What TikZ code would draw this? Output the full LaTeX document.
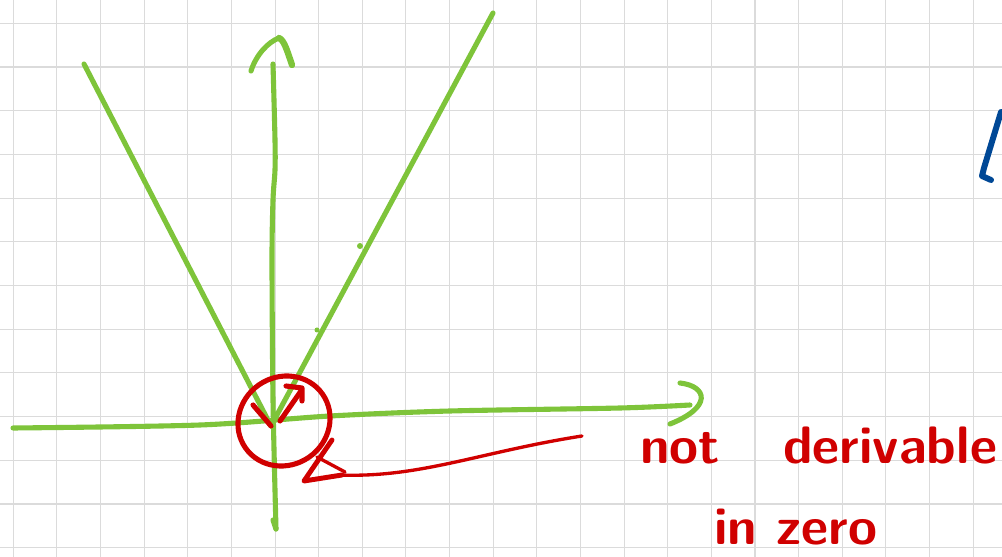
\documentclass[tikz,border=0pt]{standalone}
\usepackage{xcolor}
\usepackage{tikz}
\usetikzlibrary{arrows.meta, positioning}

\definecolor{penGreen}{RGB}{126,196,58}
\definecolor{penRed}{RGB}{208,0,0}
\definecolor{penBlue}{RGB}{0,72,150}

\begin{document}
\begin{tikzpicture}[
    x=0.02cm, y=-0.02cm,
    % Styles
    gridline/.style={draw=black!14, line width=0.6pt},
    greenpen/.style={draw=penGreen, line width=2.9pt, line cap=round, line join=round},
    redpen/.style={draw=penRed, line width=2.9pt, line cap=round, line join=round},
    redthin/.style={draw=penRed, line width=1.9pt, line cap=round, line join=round},
    bluepen/.style={draw=penBlue, line width=3.4pt, line cap=round, line join=round},
    handtext/.style={anchor=base west, inner sep=0pt, text=penRed, font=\sffamily\bfseries\fontsize{30}{36}\selectfont}
]
    \useasboundingbox (0,0) rectangle (1002,557);
    \fill[white] (0,0) rectangle (1002,557);

    % --- Squared paper ---
    \foreach \k in {0,...,22}
        \draw[gridline] ({13.3+43.63*\k},0) -- ({13.3+43.63*\k},557);
    \foreach \k in {0,...,12}
        \draw[gridline] (0,{23.3+43.7*\k}) -- (1002,{23.3+43.7*\k});

    % --- Points ---
    \coordinate (origin) at (271,426);
    \coordinate (vleft) at (84,64);
    \coordinate (vright) at (493,13);
    \coordinate (xend) at (690,405);
    \coordinate (yend) at (273,64);
    \coordinate (tip) at (304,481);

    % --- Axes ---
    \draw[greenpen] plot[smooth] coordinates {(13,428) (200,425) (330,416) (450,411) (620,408) (xend)};
    \draw[greenpen] (680,383) .. controls (707,386) and (713,407) .. (670,424);
    \draw[greenpen] plot[smooth] coordinates {(276,529) (273,400) (272,260) (273,200) (275,170) (275,140) (yend)};
    \draw[greenpen] (273,520) -- (276,529);
    \draw[greenpen] (251,71) .. controls (256,55) and (268,42) .. (279,38);
    \draw[greenpen, line width=3.6pt] (279,38) .. controls (284,40) and (287,50) .. (292,65);

    % --- |x| ---
    \draw[greenpen] (vleft) -- (origin) -- (vright);
    \fill[penGreen] (360,246) circle (3);
    \fill[penGreen] (317,330) circle (2.5);

    % --- Kink at zero ---
    \draw[redpen] (284,421) ellipse [x radius=47, y radius=44, rotate=35];
    \draw[redpen] (253,405) -- (origin);
    \draw[redpen] (280,421) -- (301,391);
    \draw[redpen] (286,386) -- (302,388) -- (302,401);

    % --- Pointer ---
    \coordinate (tail) at (582,436);
    \draw[redthin] (tail) .. controls (480,452) and (420,478) .. (340,475);
    \draw[redthin, line width=2.8pt] (332,440) -- (tip) -- (342,475);
    \draw[redthin] (317,457) -- (345,472);

    % --- Labels ---
    \node[handtext] (notlbl) at (640,464) {not};
    \node[handtext] (derlbl) at (783,464) {derivable};
    \node[handtext] (zerolbl) at (714,544) {in zero};

    % --- Stray stroke at the right edge ---
    \draw[bluepen] (1001,112) -- (984,168) -- (982,176) -- (991,180);

\end{tikzpicture}
\end{document}
